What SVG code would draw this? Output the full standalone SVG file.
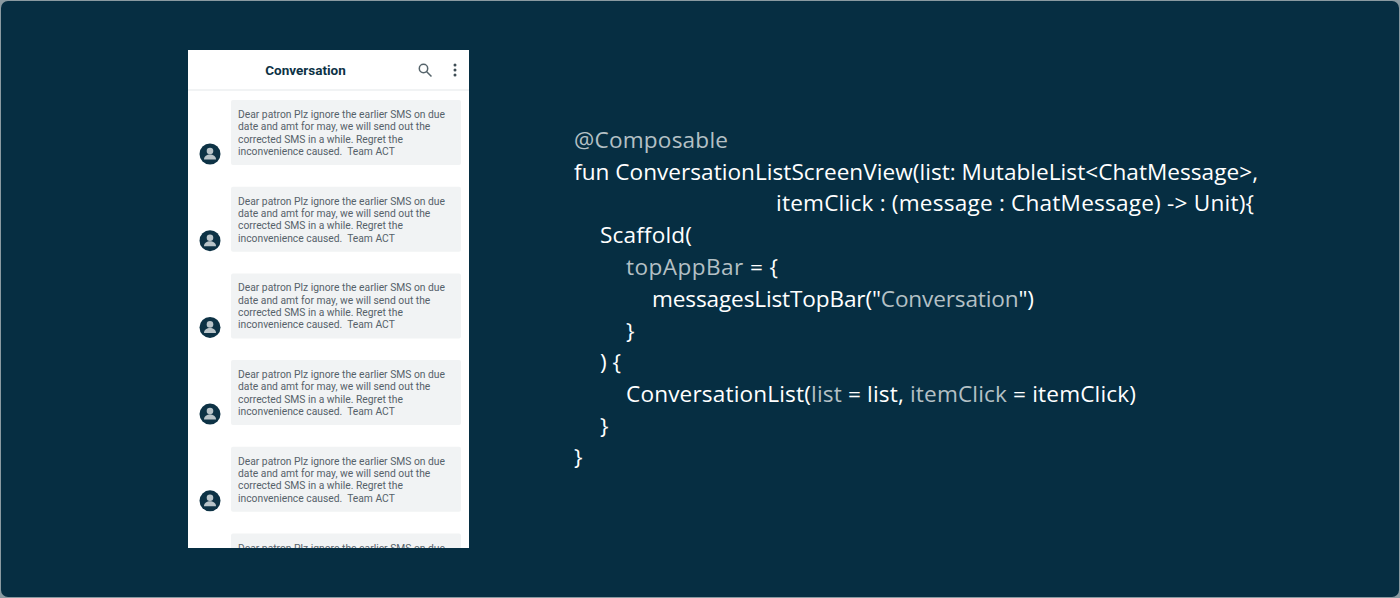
<svg xmlns="http://www.w3.org/2000/svg" width="1400" height="598" viewBox="0 0 1400 598">
<style>
.code{font-family:"Open Sans","Noto Sans",sans-serif;font-size:22.6px;fill:#ffffff}
.dim{fill:#b4c0c5}
.msg{font-family:Roboto,"Liberation Sans",sans-serif;font-size:10.3px;fill:#56626a}
.bubble{fill:#f1f3f4}
.av{fill:#0d3245}
</style>
<defs>
<clipPath id="phoneClip"><rect x="188" y="50" width="281" height="498"/></clipPath>
<g id="avatar">
<circle class="av" r="10.500"/>
<circle cy="-3" r="3.300" fill="#b9c4c9"/>
<path d="M-6 5.500c0-3.500 3-5 6-5s6 1.500 6 5z" fill="#b9c4c9"/>
</g>
</defs>
<rect width="1400" height="598" fill="#8a9aa1"/>
<rect x="1" y="1" width="1398" height="596" rx="7" fill="#062e42"/>
<g id="phone" clip-path="url(#phoneClip)">
<rect x="188" y="50" width="281" height="498" fill="#ffffff"/>
<rect x="188" y="89" width="281" height="2" fill="#f1f3f4"/>
<text x="305.500" y="75" text-anchor="middle" font-family="Roboto,'Liberation Sans',sans-serif" font-size="13.500" font-weight="700" fill="#0d3245">Conversation</text>
<g fill="none" stroke="#56646b" stroke-width="1.500"><circle cx="423.500" cy="68.500" r="4.200"/><path d="M426.500 71.500l5 5"/></g>
<g fill="#3f4d55"><circle cx="455" cy="65" r="1.500"/><circle cx="455" cy="70" r="1.500"/><circle cx="455" cy="75" r="1.500"/></g>

<g id="message-1"><use href="#avatar" x="210" y="154"/><rect class="bubble" x="231" y="100" width="230" height="65" rx="2"/>
<text class="msg" x="238" y="118">Dear patron Plz ignore the earlier SMS on due</text><text class="msg" x="238" y="130.300">date and amt for may, we will send out the</text><text class="msg" x="238" y="142.600">corrected SMS in a while. Regret the</text><text class="msg" x="238" y="155" xml:space="preserve">inconvenience caused.  Team ACT</text></g>
<g id="message-2"><use href="#avatar" x="210" y="240.700"/><rect class="bubble" x="231" y="186.700" width="230" height="65" rx="2"/>
<text class="msg" x="238" y="204.700">Dear patron Plz ignore the earlier SMS on due</text><text class="msg" x="238" y="217">date and amt for may, we will send out the</text><text class="msg" x="238" y="229.300">corrected SMS in a while. Regret the</text><text class="msg" x="238" y="241.700" xml:space="preserve">inconvenience caused.  Team ACT</text></g>
<g id="message-3"><use href="#avatar" x="210" y="327.400"/><rect class="bubble" x="231" y="273.400" width="230" height="65" rx="2"/>
<text class="msg" x="238" y="291.400">Dear patron Plz ignore the earlier SMS on due</text><text class="msg" x="238" y="303.700">date and amt for may, we will send out the</text><text class="msg" x="238" y="316">corrected SMS in a while. Regret the</text><text class="msg" x="238" y="328.400" xml:space="preserve">inconvenience caused.  Team ACT</text></g>
<g id="message-4"><use href="#avatar" x="210" y="414.100"/><rect class="bubble" x="231" y="360.100" width="230" height="65" rx="2"/>
<text class="msg" x="238" y="378.100">Dear patron Plz ignore the earlier SMS on due</text><text class="msg" x="238" y="390.400">date and amt for may, we will send out the</text><text class="msg" x="238" y="402.700">corrected SMS in a while. Regret the</text><text class="msg" x="238" y="415.100" xml:space="preserve">inconvenience caused.  Team ACT</text></g>
<g id="message-5"><use href="#avatar" x="210" y="500.800"/><rect class="bubble" x="231" y="446.800" width="230" height="65" rx="2"/>
<text class="msg" x="238" y="464.800">Dear patron Plz ignore the earlier SMS on due</text><text class="msg" x="238" y="477.100">date and amt for may, we will send out the</text><text class="msg" x="238" y="489.400">corrected SMS in a while. Regret the</text><text class="msg" x="238" y="501.800" xml:space="preserve">inconvenience caused.  Team ACT</text></g>
<g id="message-6"><rect class="bubble" x="231" y="533.500" width="230" height="65" rx="2"/>
<text class="msg" x="238" y="551.500">Dear patron Plz ignore the earlier SMS on due</text></g>
</g>
<g id="code">
<text class="code dim" x="574" y="148" textLength="154">@Composable</text>
<text class="code" x="574" y="180" textLength="684">fun ConversationListScreenView(list: MutableList&lt;ChatMessage&gt;,</text>
<text class="code" x="776" y="211" textLength="478">itemClick : (message : ChatMessage) -&gt; Unit){</text>
<text class="code" x="600" y="243" textLength="92">Scaffold(</text>
<text class="code" x="626" y="275" textLength="152"><tspan class="dim">topAppBar</tspan> = {</text>
<text class="code" x="652" y="307" textLength="382">messagesListTopBar("<tspan class="dim">Conversation</tspan>")</text>
<text class="code" x="626" y="339">}</text>
<text class="code" x="600" y="370">) {</text>
<text class="code" x="626" y="402" textLength="510">ConversationList(<tspan class="dim">list</tspan> = list, <tspan class="dim">itemClick</tspan> = itemClick)</text>
<text class="code" x="600" y="434">}</text>
<text class="code" x="574" y="465">}</text>
</g>
</svg>
